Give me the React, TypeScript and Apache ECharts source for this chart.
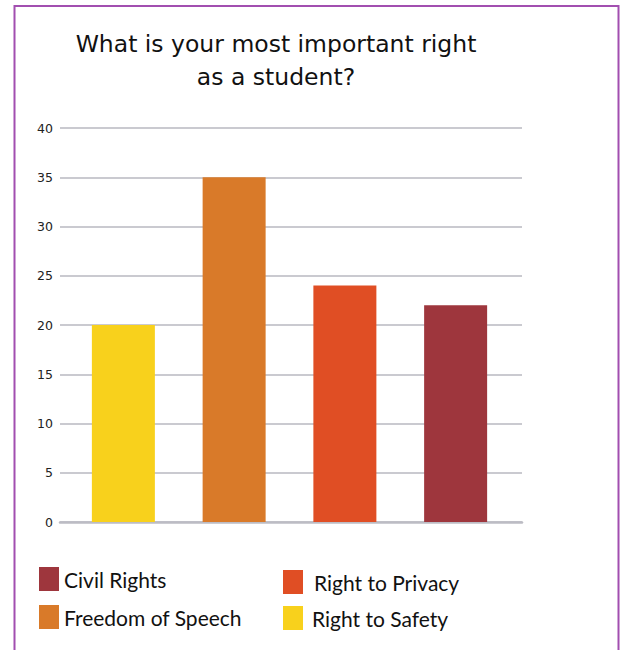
import React, { useEffect, useRef } from "react";
import * as echarts from "echarts";

const categories = ["Right to Safety", "Freedom of Speech", "Right to Privacy", "Civil Rights"];
const values = [20, 35, 24, 22];
const colors = ["#f8d11c", "#d97a29", "#e04e24", "#9e363d"];
const yTicks = { min: 0, max: 40, interval: 5 };
const titleText = "What is your most important right\nas a student?";

const FONT = "DejaVu Sans";
const LEGEND_FONT = "Lato";

export default function App() {
  const ref = useRef<HTMLDivElement>(null);
  useEffect(() => {
    if (!ref.current) return;
    const chart = echarts.init(ref.current, null, { renderer: "svg" });

    const barSeries = categories.map((name, i) => ({
      name,
      type: "bar",
      xAxisIndex: 1,
      yAxisIndex: 1,
      stack: "all",
      barWidth: 63,
      itemStyle: { color: colors[i] },
      data: categories.map((_, j) => (j === i ? values[i] : "-")),
    }));

    const legendPos: Record<string, { left: number; top: number; gap: number }> = {
      "Civil Rights": { left: 39, top: 567, gap: 0 },
      "Freedom of Speech": { left: 39, top: 605, gap: 0 },
      "Right to Privacy": { left: 283, top: 570, gap: 6 },
      "Right to Safety": { left: 283, top: 606, gap: 4 },
    };

    const legends = Object.keys(legendPos).map((name) => ({
      data: [name],
      left: legendPos[name].left,
      top: legendPos[name].top,
      padding: 0,
      itemWidth: 20,
      itemHeight: 24,
      icon: "rect",
      selectedMode: false,
      textStyle: {
        fontFamily: LEGEND_FONT,
        fontSize: 21,
        color: "#111",
        padding: [6, 0, 0, legendPos[name].gap],
      },
    }));

    chart.setOption({
      animation: false,
      backgroundColor: "#fff",
      title: {
        text: titleText,
        left: 276,
        top: 27,
        padding: 0,
        textAlign: "center",
        textStyle: {
          fontFamily: FONT,
          fontSize: 23.5,
          fontWeight: "normal",
          lineHeight: 33,
          color: "#111",
        },
      },
      legend: legends,
      grid: [
        { left: 60, right: 100, top: 128, bottom: 128 },
        { left: 68, right: 111, top: 128, bottom: 128 },
      ],
      xAxis: [
        {
          type: "category",
          gridIndex: 0,
          data: categories,
          axisLabel: { show: false },
          axisTick: { show: false },
          axisLine: { show: true, lineStyle: { color: "#bcbcc4", width: 2.5 } },
        },
        {
          type: "category",
          gridIndex: 1,
          data: categories,
          show: false,
        },
      ],
      yAxis: [
        {
          type: "value",
          gridIndex: 0,
          min: yTicks.min,
          max: yTicks.max,
          interval: yTicks.interval,
          axisLine: { show: false },
          axisTick: { show: false },
          axisLabel: { fontFamily: FONT, fontSize: 12.5, color: "#222", margin: 7 },
          splitLine: { lineStyle: { color: "#b9b9c1", width: 1.5 } },
        },
        {
          type: "value",
          gridIndex: 1,
          min: yTicks.min,
          max: yTicks.max,
          interval: yTicks.interval,
          show: false,
          splitLine: { show: false },
        },
      ],
      series: [
        { type: "line", xAxisIndex: 0, yAxisIndex: 0, data: [], silent: true },
        ...barSeries,
      ],
      graphic: [
        {
          type: "rect",
          shape: { x: 14.5, y: 6, width: 604, height: 700 },
          style: { fill: "none", stroke: "#a24fb0", lineWidth: 2 },
          silent: true,
        },
      ],
    });
    return () => chart.dispose();
  }, []);
  return (
    <div
      ref={ref}
      style={{ position: "absolute", left: 0, top: 0, width: 622, height: 650 }}
    />
  );
}
